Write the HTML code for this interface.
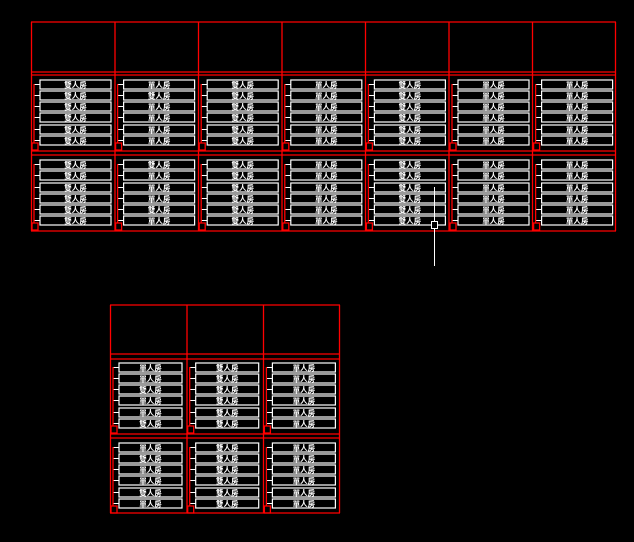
<!DOCTYPE html>
<html><head><meta charset="utf-8"><style>
html,body{margin:0;padding:0;background:#000;}
svg{display:block}
.b rect{fill:none;stroke:#fff;stroke-width:1.2}
.t{stroke:#fff;stroke-width:1;fill:none}
.r{stroke:#f00;stroke-width:1.3;fill:none}
.x{fill:#fff;font-family:"Liberation Sans","Noto Sans CJK TC",sans-serif;font-size:7.5px;font-weight:bold;text-anchor:middle}
</style></head><body>
<svg width="634" height="542" viewBox="0 0 634 542" xmlns="http://www.w3.org/2000/svg">
<path class="r" d="M31 22H616M31 72H616M31 75H616M31 151H616M31 155H616M31 231H616
M31.5 22V231M115 22V231M198.5 22V231M282 22V231M365.5 22V231M449 22V231M532.5 22V231M615.5 22V231"/>

<g transform="translate(31,0)">
<g class="b"><rect x="9" y="80" width="71" height="9"/><rect x="9" y="91" width="71" height="9"/><rect x="9" y="102" width="71" height="9"/><rect x="9" y="113" width="71" height="9"/><rect x="9" y="125" width="71" height="9"/><rect x="9" y="136" width="71" height="9"/><rect x="9" y="160" width="71" height="9"/><rect x="9" y="171" width="71" height="9"/><rect x="9" y="183" width="71" height="9"/><rect x="9" y="194" width="71" height="9"/><rect x="9" y="205" width="71" height="9"/><rect x="9" y="216" width="71" height="9"/></g>
<path class="t" d="M3 84.5h6M3 95.5h6M3 106.5h6M3 117.5h6M3 129.5h6M3 140.5h6M3 164.5h6M3 175.5h6M3 187.5h6M3 198.5h6M3 209.5h6M3 220.5h6"/>
<path class="r" d="M3 84V143M3 164V223M1 143h6v7h-6zM1 223h6v7h-6z"/>
<text class="x"><tspan x="44.5" y="87.6">雙人房</tspan><tspan x="44.5" y="98.6">雙人房</tspan><tspan x="44.5" y="109.6">雙人房</tspan><tspan x="44.5" y="120.6">雙人房</tspan><tspan x="44.5" y="132.6">雙人房</tspan><tspan x="44.5" y="143.6">雙人房</tspan><tspan x="44.5" y="167.6">雙人房</tspan><tspan x="44.5" y="178.6">雙人房</tspan><tspan x="44.5" y="190.6">雙人房</tspan><tspan x="44.5" y="201.6">雙人房</tspan><tspan x="44.5" y="212.6">雙人房</tspan><tspan x="44.5" y="223.6">雙人房</tspan></text>
</g>
<g transform="translate(114.6,0)">
<g class="b"><rect x="9" y="80" width="71" height="9"/><rect x="9" y="91" width="71" height="9"/><rect x="9" y="102" width="71" height="9"/><rect x="9" y="113" width="71" height="9"/><rect x="9" y="125" width="71" height="9"/><rect x="9" y="136" width="71" height="9"/><rect x="9" y="160" width="71" height="9"/><rect x="9" y="171" width="71" height="9"/><rect x="9" y="183" width="71" height="9"/><rect x="9" y="194" width="71" height="9"/><rect x="9" y="205" width="71" height="9"/><rect x="9" y="216" width="71" height="9"/></g>
<path class="t" d="M3 84.5h6M3 95.5h6M3 106.5h6M3 117.5h6M3 129.5h6M3 140.5h6M3 164.5h6M3 175.5h6M3 187.5h6M3 198.5h6M3 209.5h6M3 220.5h6"/>
<path class="r" d="M3 84V143M3 164V223M1 143h6v7h-6zM1 223h6v7h-6z"/>
<text class="x"><tspan x="44.5" y="87.6">單人房</tspan><tspan x="44.5" y="98.6">雙人房</tspan><tspan x="44.5" y="109.6">單人房</tspan><tspan x="44.5" y="120.6">單人房</tspan><tspan x="44.5" y="132.6">單人房</tspan><tspan x="44.5" y="143.6">單人房</tspan><tspan x="44.5" y="167.6">雙人房</tspan><tspan x="44.5" y="178.6">單人房</tspan><tspan x="44.5" y="190.6">單人房</tspan><tspan x="44.5" y="201.6">單人房</tspan><tspan x="44.5" y="212.6">雙人房</tspan><tspan x="44.5" y="223.6">單人房</tspan></text>
</g>
<g transform="translate(198.2,0)">
<g class="b"><rect x="9" y="80" width="71" height="9"/><rect x="9" y="91" width="71" height="9"/><rect x="9" y="102" width="71" height="9"/><rect x="9" y="113" width="71" height="9"/><rect x="9" y="125" width="71" height="9"/><rect x="9" y="136" width="71" height="9"/><rect x="9" y="160" width="71" height="9"/><rect x="9" y="171" width="71" height="9"/><rect x="9" y="183" width="71" height="9"/><rect x="9" y="194" width="71" height="9"/><rect x="9" y="205" width="71" height="9"/><rect x="9" y="216" width="71" height="9"/></g>
<path class="t" d="M3 84.5h6M3 95.5h6M3 106.5h6M3 117.5h6M3 129.5h6M3 140.5h6M3 164.5h6M3 175.5h6M3 187.5h6M3 198.5h6M3 209.5h6M3 220.5h6"/>
<path class="r" d="M3 84V143M3 164V223M1 143h6v7h-6zM1 223h6v7h-6z"/>
<text class="x"><tspan x="44.5" y="87.6">雙人房</tspan><tspan x="44.5" y="98.6">雙人房</tspan><tspan x="44.5" y="109.6">雙人房</tspan><tspan x="44.5" y="120.6">雙人房</tspan><tspan x="44.5" y="132.6">雙人房</tspan><tspan x="44.5" y="143.6">雙人房</tspan><tspan x="44.5" y="167.6">雙人房</tspan><tspan x="44.5" y="178.6">雙人房</tspan><tspan x="44.5" y="190.6">雙人房</tspan><tspan x="44.5" y="201.6">雙人房</tspan><tspan x="44.5" y="212.6">雙人房</tspan><tspan x="44.5" y="223.6">雙人房</tspan></text>
</g>
<g transform="translate(281.8,0)">
<g class="b"><rect x="9" y="80" width="71" height="9"/><rect x="9" y="91" width="71" height="9"/><rect x="9" y="102" width="71" height="9"/><rect x="9" y="113" width="71" height="9"/><rect x="9" y="125" width="71" height="9"/><rect x="9" y="136" width="71" height="9"/><rect x="9" y="160" width="71" height="9"/><rect x="9" y="171" width="71" height="9"/><rect x="9" y="183" width="71" height="9"/><rect x="9" y="194" width="71" height="9"/><rect x="9" y="205" width="71" height="9"/><rect x="9" y="216" width="71" height="9"/></g>
<path class="t" d="M3 84.5h6M3 95.5h6M3 106.5h6M3 117.5h6M3 129.5h6M3 140.5h6M3 164.5h6M3 175.5h6M3 187.5h6M3 198.5h6M3 209.5h6M3 220.5h6"/>
<path class="r" d="M3 84V143M3 164V223M1 143h6v7h-6zM1 223h6v7h-6z"/>
<text class="x"><tspan x="44.5" y="87.6">單人房</tspan><tspan x="44.5" y="98.6">單人房</tspan><tspan x="44.5" y="109.6">單人房</tspan><tspan x="44.5" y="120.6">單人房</tspan><tspan x="44.5" y="132.6">單人房</tspan><tspan x="44.5" y="143.6">單人房</tspan><tspan x="44.5" y="167.6">單人房</tspan><tspan x="44.5" y="178.6">單人房</tspan><tspan x="44.5" y="190.6">單人房</tspan><tspan x="44.5" y="201.6">單人房</tspan><tspan x="44.5" y="212.6">單人房</tspan><tspan x="44.5" y="223.6">單人房</tspan></text>
</g>
<g transform="translate(365.4,0)">
<g class="b"><rect x="9" y="80" width="71" height="9"/><rect x="9" y="91" width="71" height="9"/><rect x="9" y="102" width="71" height="9"/><rect x="9" y="113" width="71" height="9"/><rect x="9" y="125" width="71" height="9"/><rect x="9" y="136" width="71" height="9"/><rect x="9" y="160" width="71" height="9"/><rect x="9" y="171" width="71" height="9"/><rect x="9" y="183" width="71" height="9"/><rect x="9" y="194" width="71" height="9"/><rect x="9" y="205" width="71" height="9"/><rect x="9" y="216" width="71" height="9"/></g>
<path class="t" d="M3 84.5h6M3 95.5h6M3 106.5h6M3 117.5h6M3 129.5h6M3 140.5h6M3 164.5h6M3 175.5h6M3 187.5h6M3 198.5h6M3 209.5h6M3 220.5h6"/>
<path class="r" d="M3 84V143M3 164V223M1 143h6v7h-6zM1 223h6v7h-6z"/>
<text class="x"><tspan x="44.5" y="87.6">雙人房</tspan><tspan x="44.5" y="98.6">雙人房</tspan><tspan x="44.5" y="109.6">雙人房</tspan><tspan x="44.5" y="120.6">雙人房</tspan><tspan x="44.5" y="132.6">雙人房</tspan><tspan x="44.5" y="143.6">雙人房</tspan><tspan x="44.5" y="167.6">雙人房</tspan><tspan x="44.5" y="178.6">雙人房</tspan><tspan x="44.5" y="190.6">雙人房</tspan><tspan x="44.5" y="201.6">雙人房</tspan><tspan x="44.5" y="212.6">雙人房</tspan><tspan x="44.5" y="223.6">雙人房</tspan></text>
</g>
<g transform="translate(449,0)">
<g class="b"><rect x="9" y="80" width="71" height="9"/><rect x="9" y="91" width="71" height="9"/><rect x="9" y="102" width="71" height="9"/><rect x="9" y="113" width="71" height="9"/><rect x="9" y="125" width="71" height="9"/><rect x="9" y="136" width="71" height="9"/><rect x="9" y="160" width="71" height="9"/><rect x="9" y="171" width="71" height="9"/><rect x="9" y="183" width="71" height="9"/><rect x="9" y="194" width="71" height="9"/><rect x="9" y="205" width="71" height="9"/><rect x="9" y="216" width="71" height="9"/></g>
<path class="t" d="M3 84.5h6M3 95.5h6M3 106.5h6M3 117.5h6M3 129.5h6M3 140.5h6M3 164.5h6M3 175.5h6M3 187.5h6M3 198.5h6M3 209.5h6M3 220.5h6"/>
<path class="r" d="M3 84V143M3 164V223M1 143h6v7h-6zM1 223h6v7h-6z"/>
<text class="x"><tspan x="44.5" y="87.6">單人房</tspan><tspan x="44.5" y="98.6">單人房</tspan><tspan x="44.5" y="109.6">單人房</tspan><tspan x="44.5" y="120.6">單人房</tspan><tspan x="44.5" y="132.6">單人房</tspan><tspan x="44.5" y="143.6">單人房</tspan><tspan x="44.5" y="167.6">單人房</tspan><tspan x="44.5" y="178.6">單人房</tspan><tspan x="44.5" y="190.6">單人房</tspan><tspan x="44.5" y="201.6">單人房</tspan><tspan x="44.5" y="212.6">單人房</tspan><tspan x="44.5" y="223.6">單人房</tspan></text>
</g>
<g transform="translate(532.6,0)">
<g class="b"><rect x="9" y="80" width="71" height="9"/><rect x="9" y="91" width="71" height="9"/><rect x="9" y="102" width="71" height="9"/><rect x="9" y="113" width="71" height="9"/><rect x="9" y="125" width="71" height="9"/><rect x="9" y="136" width="71" height="9"/><rect x="9" y="160" width="71" height="9"/><rect x="9" y="171" width="71" height="9"/><rect x="9" y="183" width="71" height="9"/><rect x="9" y="194" width="71" height="9"/><rect x="9" y="205" width="71" height="9"/><rect x="9" y="216" width="71" height="9"/></g>
<path class="t" d="M3 84.5h6M3 95.5h6M3 106.5h6M3 117.5h6M3 129.5h6M3 140.5h6M3 164.5h6M3 175.5h6M3 187.5h6M3 198.5h6M3 209.5h6M3 220.5h6"/>
<path class="r" d="M3 84V143M3 164V223M1 143h6v7h-6zM1 223h6v7h-6z"/>
<text class="x"><tspan x="44.5" y="87.6">單人房</tspan><tspan x="44.5" y="98.6">單人房</tspan><tspan x="44.5" y="109.6">單人房</tspan><tspan x="44.5" y="120.6">單人房</tspan><tspan x="44.5" y="132.6">單人房</tspan><tspan x="44.5" y="143.6">單人房</tspan><tspan x="44.5" y="167.6">單人房</tspan><tspan x="44.5" y="178.6">單人房</tspan><tspan x="44.5" y="190.6">單人房</tspan><tspan x="44.5" y="201.6">單人房</tspan><tspan x="44.5" y="212.6">單人房</tspan><tspan x="44.5" y="223.6">單人房</tspan></text>
</g>
<path class="t" d="M434.5 187V266"/>
<rect x="431.5" y="221.5" width="6" height="7" fill="#000" stroke="#fff" stroke-width="1"/>

<path class="r" d="M110 305H340M110 354H340M110 359H340M110 434H340M110 438H340M110 513H340
M110.5 305V513M187 305V513M263.5 305V513M339.5 305V513"/>
<g transform="translate(110,0)">
<g class="b"><rect x="9" y="363" width="63" height="9"/><rect x="9" y="374" width="63" height="9"/><rect x="9" y="385" width="63" height="9"/><rect x="9" y="396" width="63" height="9"/><rect x="9" y="408" width="63" height="9"/><rect x="9" y="419" width="63" height="9"/><rect x="9" y="443" width="63" height="9"/><rect x="9" y="454" width="63" height="9"/><rect x="9" y="465" width="63" height="9"/><rect x="9" y="476" width="63" height="9"/><rect x="9" y="488" width="63" height="9"/><rect x="9" y="499" width="63" height="9"/></g>
<path class="t" d="M3 367.5h6M3 378.5h6M3 389.5h6M3 400.5h6M3 412.5h6M3 423.5h6M3 447.5h6M3 458.5h6M3 469.5h6M3 480.5h6M3 492.5h6M3 503.5h6"/>
<path class="r" d="M3 367V426M3 447V506M1 426h6v7h-6zM1 506h6v7h-6z"/>
<text class="x"><tspan x="40.5" y="370.6">單人房</tspan><tspan x="40.5" y="381.6">單人房</tspan><tspan x="40.5" y="392.6">雙人房</tspan><tspan x="40.5" y="403.6">單人房</tspan><tspan x="40.5" y="415.6">單人房</tspan><tspan x="40.5" y="426.6">雙人房</tspan><tspan x="40.5" y="450.6">單人房</tspan><tspan x="40.5" y="461.6">雙人房</tspan><tspan x="40.5" y="472.6">單人房</tspan><tspan x="40.5" y="483.6">單人房</tspan><tspan x="40.5" y="495.6">雙人房</tspan><tspan x="40.5" y="506.6">單人房</tspan></text>
</g>
<g transform="translate(186.7,0)">
<g class="b"><rect x="9" y="363" width="63" height="9"/><rect x="9" y="374" width="63" height="9"/><rect x="9" y="385" width="63" height="9"/><rect x="9" y="396" width="63" height="9"/><rect x="9" y="408" width="63" height="9"/><rect x="9" y="419" width="63" height="9"/><rect x="9" y="443" width="63" height="9"/><rect x="9" y="454" width="63" height="9"/><rect x="9" y="465" width="63" height="9"/><rect x="9" y="476" width="63" height="9"/><rect x="9" y="488" width="63" height="9"/><rect x="9" y="499" width="63" height="9"/></g>
<path class="t" d="M3 367.5h6M3 378.5h6M3 389.5h6M3 400.5h6M3 412.5h6M3 423.5h6M3 447.5h6M3 458.5h6M3 469.5h6M3 480.5h6M3 492.5h6M3 503.5h6"/>
<path class="r" d="M3 367V426M3 447V506M1 426h6v7h-6zM1 506h6v7h-6z"/>
<text class="x"><tspan x="40.5" y="370.6">雙人房</tspan><tspan x="40.5" y="381.6">雙人房</tspan><tspan x="40.5" y="392.6">雙人房</tspan><tspan x="40.5" y="403.6">雙人房</tspan><tspan x="40.5" y="415.6">雙人房</tspan><tspan x="40.5" y="426.6">雙人房</tspan><tspan x="40.5" y="450.6">雙人房</tspan><tspan x="40.5" y="461.6">雙人房</tspan><tspan x="40.5" y="472.6">雙人房</tspan><tspan x="40.5" y="483.6">雙人房</tspan><tspan x="40.5" y="495.6">雙人房</tspan><tspan x="40.5" y="506.6">雙人房</tspan></text>
</g>
<g transform="translate(263.4,0)">
<g class="b"><rect x="9" y="363" width="63" height="9"/><rect x="9" y="374" width="63" height="9"/><rect x="9" y="385" width="63" height="9"/><rect x="9" y="396" width="63" height="9"/><rect x="9" y="408" width="63" height="9"/><rect x="9" y="419" width="63" height="9"/><rect x="9" y="443" width="63" height="9"/><rect x="9" y="454" width="63" height="9"/><rect x="9" y="465" width="63" height="9"/><rect x="9" y="476" width="63" height="9"/><rect x="9" y="488" width="63" height="9"/><rect x="9" y="499" width="63" height="9"/></g>
<path class="t" d="M3 367.5h6M3 378.5h6M3 389.5h6M3 400.5h6M3 412.5h6M3 423.5h6M3 447.5h6M3 458.5h6M3 469.5h6M3 480.5h6M3 492.5h6M3 503.5h6"/>
<path class="r" d="M3 367V426M3 447V506M1 426h6v7h-6zM1 506h6v7h-6z"/>
<text class="x"><tspan x="40.5" y="370.6">單人房</tspan><tspan x="40.5" y="381.6">單人房</tspan><tspan x="40.5" y="392.6">單人房</tspan><tspan x="40.5" y="403.6">單人房</tspan><tspan x="40.5" y="415.6">單人房</tspan><tspan x="40.5" y="426.6">單人房</tspan><tspan x="40.5" y="450.6">單人房</tspan><tspan x="40.5" y="461.6">單人房</tspan><tspan x="40.5" y="472.6">單人房</tspan><tspan x="40.5" y="483.6">單人房</tspan><tspan x="40.5" y="495.6">單人房</tspan><tspan x="40.5" y="506.6">單人房</tspan></text>
</g>
</svg>
</body></html>
